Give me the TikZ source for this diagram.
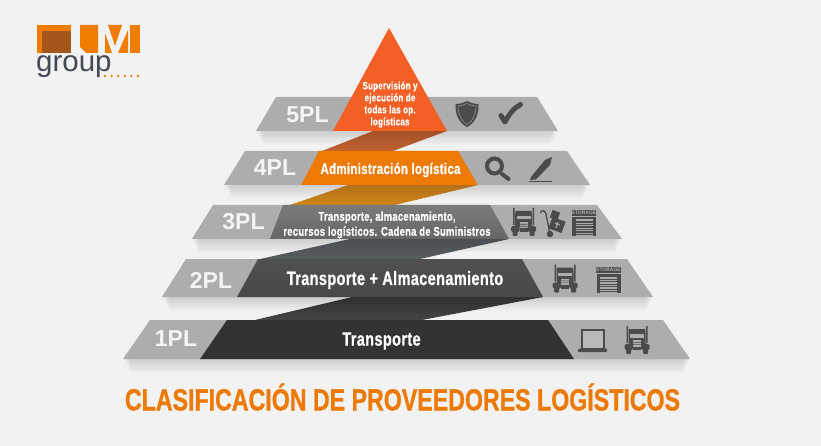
\documentclass[tikz,border=0pt]{standalone}
\usepackage{fontspec}
\setmainfont{Liberation Sans}
\newfontfamily\condfont[UprightFont=* Bold,FakeStretch=0.75,FakeBold=0.7,LetterSpace=2]{Liberation Sans}
\newfontfamily\titlefont[UprightFont=* Bold,FakeStretch=0.76,FakeBold=0.9]{Liberation Sans}
\usetikzlibrary{positioning}
\definecolor{mback}{HTML}{F2F2F2}
\definecolor{mband}{HTML}{ADADAD}
\definecolor{micon}{HTML}{4B4B4D}
\definecolor{mlabel}{HTML}{F4F4F4}
\definecolor{mred}{HTML}{F35F25}
\definecolor{morange}{HTML}{EE7A06}
\definecolor{mlogo}{HTML}{F07C00}
\definecolor{mbrown}{HTML}{A5561A}
\definecolor{mgroup}{HTML}{454855}
\definecolor{mribaa}{HTML}{A35029}
\definecolor{mribab}{HTML}{C26330}
\definecolor{mribba}{HTML}{B2711A}
\definecolor{mribbb}{HTML}{CE8518}
\definecolor{mribca}{HTML}{4A4E52}
\definecolor{mribcb}{HTML}{585D60}
\definecolor{mribda}{HTML}{2F3032}
\definecolor{mribdb}{HTML}{434446}
\definecolor{mtiera}{HTML}{7A7A7A}
\definecolor{mtierb}{HTML}{666666}
\definecolor{mtierc}{HTML}{505050}
\definecolor{mtierd}{HTML}{484848}
\tikzset{
  pllabel/.style = {text=mlabel, font=\fontsize{23}{24}\selectfont\bfseries},
  tierlabel/.style = {text=white, align=center},
  truck/.pic = {
    \fill [micon] (-10.5,-14) rectangle (-9,3) (9,-14) rectangle (10.5,3);
    \fill [micon] (-8,-11) -- (8,-11) -- (8.5,-7) -- (8.5,5) -- (-8.5,5) -- (-8.5,-7) -- cycle;
    \fill [mband] (-7,-6) rectangle (7,-2.5);
    \fill [mband] (-4,0) rectangle (4,6.5);
    \fill [micon] (-4,2) rectangle (4,2.6) (-4,4) rectangle (4,4.6);
    \fill [micon, rounded corners=1.5pt] (-12.5,4) rectangle (-4,10) (4,4) rectangle (12.5,10);
    \fill [micon] (-4,6.5) rectangle (4,10);
    \fill [micon, rounded corners=1pt] (-11,9) rectangle (-6,14) (6,9) rectangle (11,14);
  },
  storage/.pic = {
    \fill [micon] (-12,-7) rectangle (12,13);
    \fill [mband] (-12,-7.6) rectangle (12,-6.4);
    \node (sign) [fill=micon, minimum width=24pt, minimum height=6pt, inner sep=0pt,
      text=mband, font=\fontsize{5}{5}\selectfont\bfseries] at (0,-10) {STORAGE};
    \fill [mband] (-8.5,-3.5) rectangle (8.5,13);
    \foreach \y in {-1.5,1,...,11} {
      \fill [micon] (-8.5,\y) rectangle (8.5,\y+1.1);
    }
  }
}
\begin{document}
\begin{tikzpicture}[x=1pt,y=-1pt]
  \useasboundingbox (0,0) rectangle (821,446);
  \fill [mback] (0,0) rectangle (821,446);
  % shadows and gray bands
  \foreach \tl/\tr/\br/\bl/\yt/\yb in {276/537/558/256/97/131, 245/567/590/224/151/185,
      213/597/622/192/205/239, 186/627/653/162/259/297, 150/663/690/123/320/359} {
    \foreach \s in {1,...,12} {
      \fill [black, opacity=.012] (\bl+\s*.6,\yb-6) -- (\br-\s*.6,\yb-6) -- (\br-\s*.6,\yb+\s*1.2) -- (\bl+\s*.6,\yb+\s*1.2) -- cycle;
    }
    \fill [mband] (\tl,\yt) -- (\tr,\yt) -- (\br,\yb) -- (\bl,\yb) -- cycle;
  }
  % ribbons between the tiers
  \shade [top color=mribaa, bottom color=mribab] (373,131) -- (447,131) -- (393,151) -- (322,151) -- cycle;
  \shade [top color=mribba, bottom color=mribbb] (348,185) -- (478,185) -- (395,205) -- (290,205) -- cycle;
  \shade [top color=mribca, bottom color=mribcb] (350,239) -- (509,239) -- (420,259) -- (260,259) -- cycle;
  \shade [top color=mribda, bottom color=mribdb] (352,297) -- (543,297) -- (422,320) -- (255,320) -- cycle;
  % centre of the pyramid
  \fill [mred] (389,28) -- (447,131) -- (333,131) -- cycle;
  \fill [morange] (319,151) -- (458,151) -- (478,185) -- (301,185) -- cycle;
  \shade [top color=mtiera, bottom color=mtierb] (283,205) -- (490,205) -- (509,239) -- (270,239) -- cycle;
  \shade [top color=mtierc, bottom color=mtierd] (258,259) -- (522,259) -- (543,297) -- (237,297) -- cycle;
  \fill [black!80] (227,320) -- (548,320) -- (574,359) -- (200,359) -- cycle;
  % labels
  \node (five) [pllabel] at (307.5,115) {5PL};
  \node (four) [pllabel] at (275,168) {4PL};
  \node (three) [pllabel] at (243.5,222) {3PL};
  \node (two) [pllabel] at (211,280) {2PL};
  \node (one) [pllabel] at (176,339) {1PL};
  \node (super) [tierlabel, font=\condfont\fontsize{10.7}{12}\selectfont] at (390,104.5) {Supervisión y\\ejecución de\\todas las op.\\logísticas};
  \node (admin) [tierlabel, font=\condfont\fontsize{15.3}{17}\selectfont] at (390.5,170) {Administración logística};
  \node (trans3) [tierlabel, font=\condfont\fontsize{12.6}{15}\selectfont] at (387,225) {Transporte, almacenamiento,\\recursos logísticos. Cadena de Suministros};
  \node (trans2) [tierlabel, font=\condfont\fontsize{19.3}{21}\selectfont] at (395,280) {Transporte + Almacenamiento};
  \node (trans1) [tierlabel, font=\condfont\fontsize{19.3}{21}\selectfont] at (381.5,341) {Transporte};
  \node (title) [text=morange, font=\titlefont\fontsize{30.5}{34}\selectfont] at (402.5,397) {CLASIFICACIÓN DE PROVEEDORES LOGÍSTICOS};
  % icons of the 5PL and 4PL bands
  \fill [micon] (467,101) .. controls (471,103) and (475,104) .. (478.5,104) .. controls (479,115) and (475,123) .. (467,127) .. controls (459,123) and (455,115) .. (455.5,104) .. controls (459,104) and (463,103) .. (467,101) -- cycle;
  \draw [mband!70!micon, line width=.6pt] (467,103.5) .. controls (470,105) and (473,106) .. (476,106) .. controls (476,114) and (473,121) .. (467,124.5) .. controls (461,121) and (458,114) .. (458,106) .. controls (461,106) and (464,105) .. (467,103.5) -- cycle;
  \draw [micon, line width=5pt, line cap=round, line join=round] (501,115.5) -- (505,122) .. controls (509,114) and (514,108) .. (520.5,104.5);
  \draw [micon, line width=4pt] (494.5,166) circle (7.5);
  \draw [micon, line width=2pt] (499.5,171.5) -- (502,174);
  \draw [micon, line width=4pt, line cap=round] (502,174) -- (508.5,179);
  \fill [micon] (531,177) -- (545,160) -- (552,157) -- (550,165) -- (536,179.5) -- (530,180) -- cycle;
  \fill [micon] (529,181) rectangle (552,182);
  % icons of the lower bands
  \pic at (523.5,222) {truck};
  \draw [micon, line width=1.3pt] (540.5,213) .. controls (541,209.5) and (545,210) .. (546,214) -- (550,234);
  \fill [micon] (550,234) circle (3.3);
  \fill [micon, rotate around={-20:(557,225)}] (550,219) rectangle (564,231);
  \fill [micon, rotate around={-20:(555,215)}] (551,211) rectangle (559,219);
  \fill [mband, rotate around={-20:(557,225)}] (556.4,222) rectangle (557.6,228) (554.5,223.5) rectangle (559.5,224.5);
  \pic (storethree) at (584,223) {storage};
  \pic at (565,278.5) {truck};
  \pic (storetwo) at (608.5,280) {storage};
  \fill [micon] (581,329) rectangle (605,349);
  \fill [mband!85!white] (583,331) rectangle (603,347.5);
  \fill [micon, rounded corners=.8pt] (578,348.5) rectangle (607,352);
  \pic at (637,340) {truck};
  % logo
  \fill [mlogo] (37,25) rectangle (71,53);
  \fill [mbrown] (42,31) rectangle (71,53);
  \fill [mlogo] (80,25) -- (98,25) -- (98,53) -- (86,53) -- (80,47) -- cycle;
  \fill [mlogo] (108,25) -- (122,25) -- (115,46) -- cycle;
  \fill [mlogo] (105,33) -- (105,53) -- (112,53) -- cycle;
  \fill [mlogo] (118,53) -- (128,53) -- (128,30) -- cycle;
  \fill [mlogo] (130,25) rectangle (140,53);
  \node (group) [text=mgroup, font=\fontsize{29.5}{30}\selectfont, anchor=base west, inner sep=0pt] at (36,72) {group};
  \foreach \x in {105,111.6,...,139} {
    \fill [mlogo] (\x,76) circle (1.3);
  }
\end{tikzpicture}
\end{document}
